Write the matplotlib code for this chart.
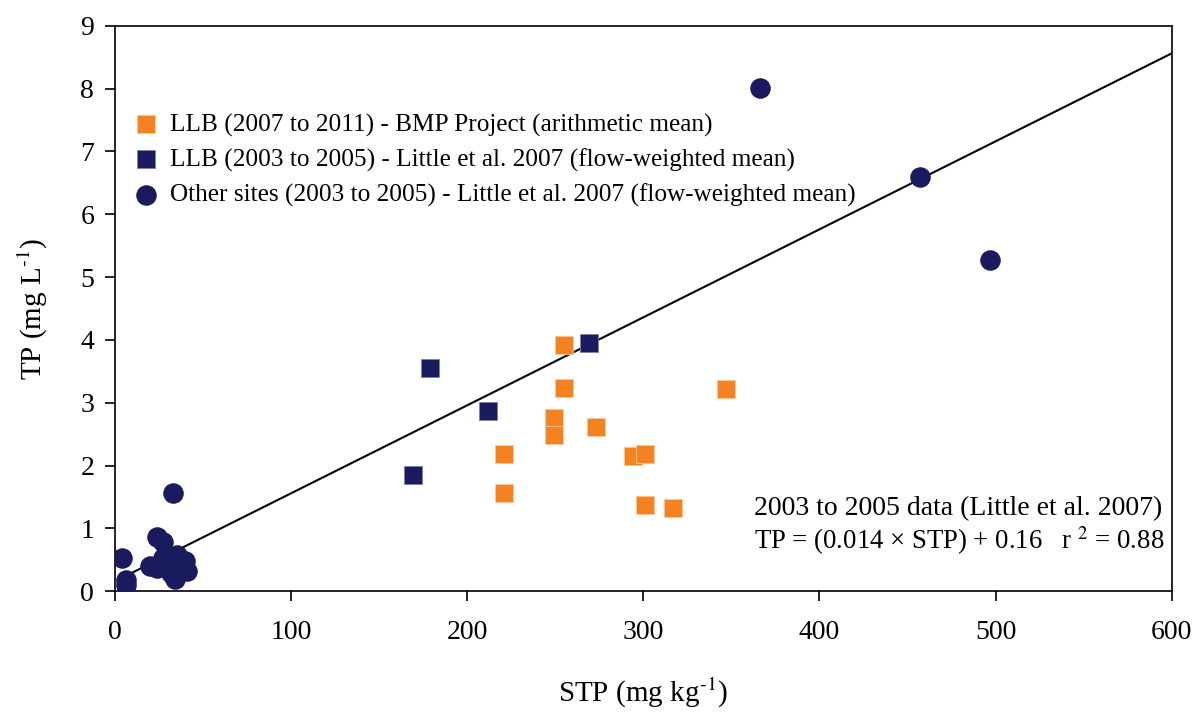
import matplotlib
matplotlib.use('Agg')
import matplotlib.pyplot as plt
import numpy as np

plt.rcParams['font.family'] = ['Liberation Serif', 'DejaVu Serif']
plt.rcParams['mathtext.fontset'] = 'stix'

# LLB 2007-2011 BMP project (arithmetic mean)
bmp_stp = [255, 255, 249, 249, 273, 221, 221, 294, 301, 301, 317, 347]
bmp_tp = [3.92, 3.23, 2.75, 2.48, 2.61, 2.18, 1.56, 2.15, 2.18, 1.37, 1.32, 3.22]

# LLB 2003-2005 Little et al. 2007 (flow-weighted mean)
llb_stp = [169, 179, 212, 269]
llb_tp = [1.85, 3.55, 2.87, 3.95]

# other sites 2003-2005
oth_stp = [366, 457, 497, 33, 24, 27, 4, 6, 6, 20, 24, 27, 35, 40, 37, 41, 34, 30, 32]
oth_tp = [8.01, 6.59, 5.27, 1.57, 0.86, 0.78, 0.53, 0.18, 0.10, 0.41, 0.37, 0.53,
          0.57, 0.49, 0.33, 0.33, 0.20, 0.38, 0.29]

slope, intercept = 0.014, 0.16
fit_x = np.array([5, 600])

orange = '#f58220'
navy = '#1a1a5e'

fig = plt.figure(figsize=(11.98, 7.15), dpi=100)
ax = fig.add_axes([0.096, 0.173, 0.882, 0.791])

ax.plot(fit_x, slope * fit_x + intercept, color='black', lw=1.5, zorder=2)
ax.scatter(bmp_stp, bmp_tp, marker='s', s=150, color=orange, edgecolors='#fbc9a0',
           linewidths=0.6, zorder=3, label='LLB (2007 to 2011) - BMP Project (arithmetic mean)')
ax.scatter(llb_stp, llb_tp, marker='s', s=150, color=navy, edgecolors='#8080a8',
           linewidths=0.6, zorder=3, label='LLB (2003 to 2005) - Little et al. 2007 (flow-weighted mean)')
ax.scatter(oth_stp, oth_tp, marker='o', s=190, color=navy, zorder=3,
           label='Other sites (2003 to 2005) - Little et al. 2007 (flow-weighted mean)')

ax.set_xlim(0, 600)
ax.set_ylim(0, 9)
ax.set_xticks(range(0, 601, 100))
ax.set_yticks(range(0, 10))
ax.tick_params(direction='out', length=7, width=1.2, labelsize=20)
ax.tick_params(axis='x', pad=14)
ax.tick_params(axis='y', pad=8)
for s in ax.spines.values():
    s.set_linewidth(1.2)

ax.set_xlabel('STP (mg kg$^{\u20101}$)', fontsize=21, labelpad=22)
ax.set_ylabel('TP (mg L$^{\u20101}$)', fontsize=21, labelpad=22)

ax.legend(loc='upper left', bbox_to_anchor=(0.015, 0.845), frameon=False, fontsize=18.2,
          handlelength=1.2, handletextpad=0.36, labelspacing=0.46,
          borderaxespad=0, borderpad=0)

ax.text(363, 1.32, '2003 to 2005 data (Little et al. 2007)', fontsize=20, va='center')
ax.text(363, 0.81, 'TP = (0.014 \u00d7 STP) + 0.16   r $^{2}$ = 0.88', fontsize=19.3, va='center')

fig.savefig('out.png', dpi=100, facecolor='white')
